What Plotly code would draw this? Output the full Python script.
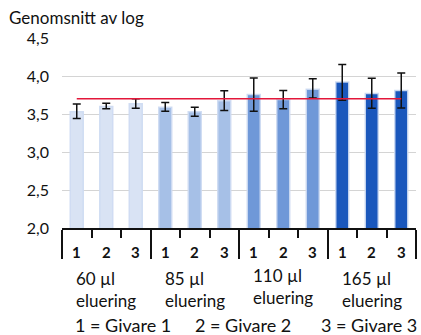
import plotly.graph_objects as go

groups = ["60 µl<br>eluering", "85 µl<br>eluering", "110 µl<br>eluering", "165 µl<br>eluering"]
donors = ["1", "2", "3"]
means = [3.53, 3.60, 3.635, 3.59, 3.53, 3.675, 3.755, 3.69, 3.825, 3.92, 3.77, 3.81]
err_plus = [0.10, 0.04, 0.065, 0.06, 0.06, 0.13, 0.22, 0.12, 0.14, 0.23, 0.20, 0.23]
err_minus = [0.09, 0.03, 0.06, 0.055, 0.06, 0.13, 0.22, 0.12, 0.115, 0.24, 0.195, 0.23]
group_colors = ["#d9e3f4", "#a6c0e7", "#6f98d8", "#1a57bc"]
reference_level = 3.7
y_ticks = [2.0, 2.5, 3.0, 3.5, 4.0, 4.5]
legend_items = ["1 = Givare 1", "2 = Givare 2", "3 = Givare 3"]

FONT = "Lato"
n = len(means)
xs = list(range(n))
colors = [group_colors[i // 3] for i in range(n)]
PW = 354.0  # plot width in px

fig = go.Figure()
fig.add_trace(go.Bar(
    x=xs, y=means, width=0.44,
    marker=dict(color=colors, line=dict(color="rgba(205,218,242,0.9)", width=1.5)),
    error_y=dict(type="data", symmetric=False, array=err_plus, arrayminus=err_minus,
                 color="#111111", thickness=1.5, width=4),
    showlegend=False,
))
fig.add_trace(go.Scatter(
    x=[xs[0], xs[-1]], y=[reference_level, reference_level], mode="lines",
    line=dict(color="#e3173a", width=1.5), showlegend=False, hoverinfo="skip",
))

annotations = []
for i in range(n):
    annotations.append(dict(x=i, y=0, xref="x", yref="paper", yanchor="middle", yshift=-24,
                            text="<b>%s</b>" % donors[i % 3], showarrow=False,
                            font=dict(family=FONT, size=15, color="#111111")))
for g, label in enumerate(groups):
    annotations.append(dict(x=g * 3 - 0.08, y=0, xref="x", yref="paper",
                            xanchor="left", yanchor="top", align="left",
                            yshift=-38 + (3 if g == 2 else 0),
                            text=label, showarrow=False,
                            font=dict(family=FONT, size=17, color="#111111")))
for k, (item, px) in enumerate(zip(legend_items, [73, 193, 319])):
    annotations.append(dict(x=(px - 62) / PW, y=0, xref="paper", yref="paper", yanchor="middle",
                            xanchor="left", yshift=-97, text=item, showarrow=False,
                            font=dict(family=FONT, size=18, color="#111111")))
annotations.append(dict(x=(7 - 62) / PW, y=1, xref="paper", yref="paper", xanchor="left",
                        yanchor="middle", yshift=21, text="Genomsnitt av log",
                        showarrow=False, font=dict(family=FONT, size=17, color="#111111")))

fig.update_layout(
    width=421, height=335,
    margin=dict(l=62, r=5, t=38, b=107),
    plot_bgcolor="white", paper_bgcolor="white",
    separators=", ",
    annotations=annotations,
    xaxis=dict(range=[-0.5, n - 0.5], tickvals=[-0.5, 2.5, 5.5, 8.5, 11.5],
               showticklabels=False, ticks="outside", ticklen=29, tickwidth=1.5,
               tickcolor="#111111", showline=True, linecolor="#111111", linewidth=1.5,
               showgrid=False, zeroline=False,
               minor=dict(tickvals=[-0.5 + k for k in range(n + 1)], ticks="outside",
                          ticklen=8, tickwidth=1.5, tickcolor="#111111", showgrid=False)),
    yaxis=dict(range=[2.0, 4.5], tickvals=y_ticks, tickformat=".1f",
               showgrid=True, gridcolor="#d4d4d4", gridwidth=1, zeroline=False,
               showline=False, ticks="", ticklabelstandoff=12,
               tickfont=dict(family=FONT, size=16, color="#111111")),
)

fig.write_html("out.html")
